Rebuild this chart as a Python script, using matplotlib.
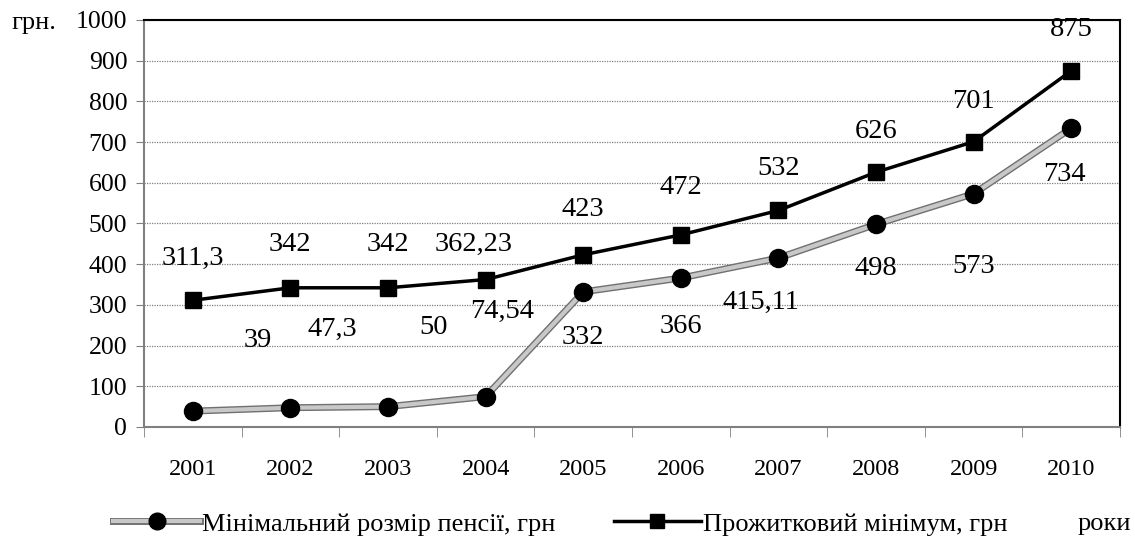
import matplotlib.pyplot as plt
import matplotlib.patheffects as pe
from matplotlib.lines import Line2D

years = ['2001', '2002', '2003', '2004', '2005', '2006', '2007', '2008', '2009', '2010']
pension = [39, 47.3, 50, 74.54, 332, 366, 415.11, 498, 573, 734]
minimum = [311.3, 342, 342, 362.23, 423, 472, 532, 626, 701, 875]
pension_labels = ['39', '47,3', '50', '74,54', '332', '366', '415,11', '498', '573', '734']
minimum_labels = ['311,3', '342', '342', '362,23', '423', '472', '532', '626', '701', '875']

# label offsets in pixels (hand placed, like in the original)
pension_off = [(65, 71), (42, 78), (46, 79), (16, 85), (0, -46), (0, -48), (-17, -44), (0, -44), (0, -73), (-7, -46)]
minimum_off = [(0, 42), (0, 43), (0, 43), (-12, 35), (0, 45), (0, 47), (0, 42), (0, 41), (0, 40), (0, 41)]

plt.rcParams['font.family'] = ['Liberation Serif', 'DejaVu Serif']

fig = plt.figure(figsize=(11.35, 5.36), dpi=100)
ax = fig.add_axes([0.1269, 0.2034, 0.8599, 0.7593])

x = list(range(len(years)))
gray_fx = [pe.Stroke(linewidth=5, foreground='#707070'), pe.Normal()]

# pension: gray textured line, black dots drawn on top
ax.plot(x, pension, color='#c8c8c8', lw=3, path_effects=gray_fx, zorder=3)
ax.plot(x, pension, 'o', color='black', markersize=13, zorder=3.5)
ax.plot(x, minimum, color='black', lw=2.5, marker='s', markersize=11,
        markerfacecolor='black', markeredgecolor='black', zorder=4)

for i in x:
    ax.annotate(pension_labels[i], (i, pension[i]), xytext=pension_off[i],
                textcoords='offset pixels', ha='center', va='center', fontsize=20.5)
    ax.annotate(minimum_labels[i], (i, minimum[i]), xytext=minimum_off[i],
                textcoords='offset pixels', ha='center', va='center', fontsize=20.5)

ax.set_xlim(-0.5, 9.5)
ax.set_ylim(0, 1000)
ax.set_yticks(range(0, 1001, 100))
ax.tick_params(axis='y', labelsize=18.5, length=6, color='#808080', pad=6)
ax.set_xticks(x)
ax.set_xticklabels(years)
ax.set_xticks([i - 0.5 for i in range(11)], minor=True)
ax.tick_params(axis='x', which='major', length=0, labelsize=17.5, pad=23)
ax.tick_params(axis='x', which='minor', length=7, color='#808080')

ax.grid(axis='y', color='#808080', linestyle=(0, (1, 1)), lw=0.9)
ax.set_axisbelow(True)
for s in ['left', 'bottom']:
    ax.spines[s].set_color('#808080')
    ax.spines[s].set_linewidth(1.5)
for s in ['top', 'right']:
    ax.spines[s].set_color('black')
    ax.spines[s].set_linewidth(1.5)

fig.text(0.010, 0.957, 'грн.', fontsize=19, va='center', ha='left')
fig.text(0.949, 0.0224, 'роки', fontsize=19, va='center', ha='left')

h1_line = Line2D([], [], color='#c8c8c8', lw=3, path_effects=gray_fx)
h1_dot = Line2D([], [], color='black', marker='o', markersize=12, linestyle='none')
h2 = Line2D([], [], color='black', lw=2.5, marker='s', markersize=10,
            markerfacecolor='black', markeredgecolor='black')
fig.legend([(h1_line, h1_dot), h2], ['Мінімальний розмір пенсії, грн', 'Прожитковий мінімум, грн'],
           loc='center left', bbox_to_anchor=(0.0996, 0.0224), ncol=2, frameon=False,
           fontsize=19, handlelength=3.3, handletextpad=0.08, columnspacing=2.2,
           borderaxespad=0, borderpad=0)

fig.savefig('out.png', dpi=100)
